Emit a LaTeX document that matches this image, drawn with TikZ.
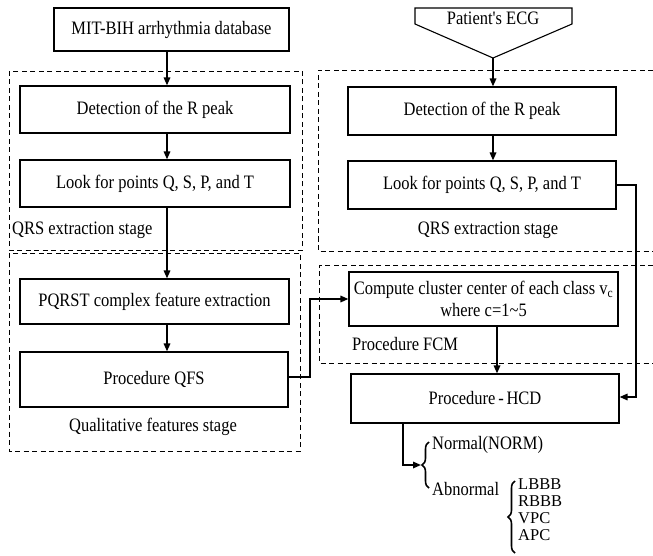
\documentclass[tikz,border=0pt]{standalone}
\usepackage{graphicx}
\usepackage{fontspec}
\setmainfont{Liberation Serif}
\usetikzlibrary{arrows.meta,decorations.pathreplacing}
\newcommand{\stx}[1]{\scalebox{1}[1.15]{#1}}
\begin{document}
\begin{tikzpicture}[x=1pt,y=-1pt,
  every node/.style={font=\rmfamily\fontsize{16.5}{19.8}\selectfont, inner sep=0pt},
  box/.style={draw, line width=1.1pt, align=center},
  arr/.style={line width=1.6pt, -{Triangle[length=8pt,width=6.5pt]}},
  dbox/.style={line width=0.9pt, dash pattern=on 5pt off 3.5pt},
  brc/.style={line width=1.6pt, decorate, decoration={brace, amplitude=7pt}},
  lbl/.style={}]
\useasboundingbox (0,0) rectangle (653,556);

% dashed stage frames
\draw[dbox] (9,71) rectangle (302,250);
\draw[dbox] (9,253) rectangle (300,451);
\draw[dbox] (653,70) -- (318,70) -- (318,251) -- (653,251);
\draw[dbox] (653,265) -- (319,265) -- (319,363) -- (653,363);

% left column
\node[box, minimum width=235pt, minimum height=43pt] (mit) at (171.5,29.5) {\stx{MIT-BIH arrhythmia database}};
\node[box, minimum width=270pt, minimum height=47pt] (det1) at (155,109.5) {\stx{Detection of the R peak}};
\node[box, minimum width=270pt, minimum height=47pt] (look1) at (155,183.5) {\stx{Look for points Q, S, P, and T}};
\node[lbl, anchor=west] (qrs1) at (12,230) {\stx{QRS extraction stage}};
\node[box, minimum width=269pt, minimum height=45pt] (pqrst) at (154.5,301.5) {\stx{PQRST complex feature extraction}};
\node[box, minimum width=268pt, minimum height=55pt] (qfs) at (154,379.5) {\stx{Procedure QFS}};
\node[lbl] (qual) at (153,427) {\stx{Qualitative features stage}};

% right column
\node (ecg) at (493,18) {\stx{Patient\textquotesingle s ECG}};
\coordinate (ecgtip) at (493,58);
\draw[line width=1.1pt] (415,8) -- (572,8) -- (572,24) -- (ecgtip) -- (415,24) -- cycle;
\node[box, minimum width=268pt, minimum height=48pt] (det2) at (482,111) {\stx{Detection of the R peak}};
\node[box, minimum width=268pt, minimum height=48pt] (look2) at (482,185) {\stx{Look for points Q, S, P, and T}};
\node[lbl] (qrs2) at (488,230) {\stx{QRS extraction stage}};
\node[box, minimum width=269pt, minimum height=54pt] (fcm) at (483.5,299) {\stx{Compute cluster center of each class v\textsubscript{c}}\\[3pt] \stx{where c=1\textasciitilde 5}};
\node[lbl, anchor=west] (fcml) at (352,344) {\stx{Procedure FCM}};
\node[box, minimum width=268pt, minimum height=49pt] (hcd) at (485,398.5) {\stx{Procedure\,-\,HCD}};

% classification
\node[lbl, anchor=west] (norm) at (432,445) {\stx{Normal(NORM)}};
\node[lbl, anchor=west] (abn) at (432,489) {\stx{Abnormal}};
\node[lbl, anchor=north west, align=left, font=\rmfamily\fontsize{16.5}{17}\selectfont] (abnlist) at (518,478) {LBBB\\RBBB\\VPC\\APC};
\draw[brc] (429,488) -- (429,442);
\draw[brc] (515,553) -- (515,481);
\coordinate (b1tip) at (421,465);

% connectors
\coordinate (ax) at (167,0);
\coordinate (bx) at (493,0);
\coordinate (cx) at (497,0);
\coordinate (hx) at (403,0);
\draw[arr] (mit.south -| ax) -- (det1.north -| ax);
\draw[arr] (det1.south -| ax) -- (look1.north -| ax);
\draw[arr] (look1.south -| ax) -- (pqrst.north -| ax);
\draw[arr] (pqrst.south -| ax) -- (qfs.north -| ax);
\draw[arr] (ecgtip) -- (det2.north -| bx);
\draw[arr] (det2.south -| bx) -- (look2.north -| bx);
\draw[arr] (fcm.south -| cx) -- (hcd.north -| cx);
\draw[arr] (qfs.east |- 0,377) -- (310,377) -- (310,299) -- (fcm.west);
\draw[arr] (look2.east) -- (636,185) -- (636,397) -- (hcd.east |- 0,397);
\draw[arr] (hcd.south -| hx) -- (403,465) -- (b1tip);
\end{tikzpicture}
\end{document}
